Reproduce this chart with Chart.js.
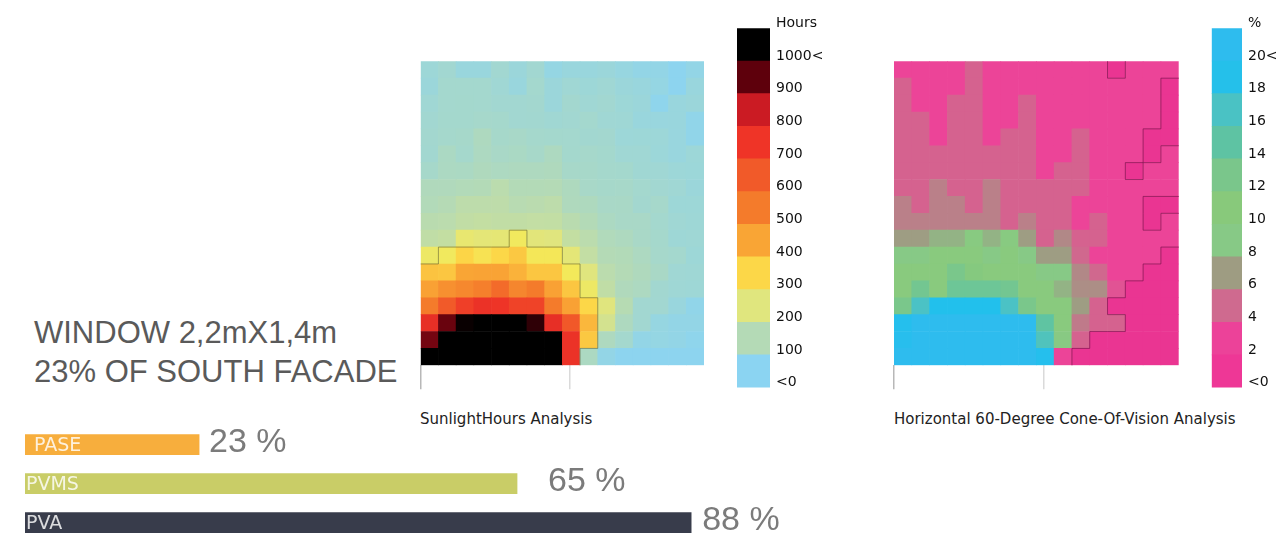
<!DOCTYPE html>
<html>
<head>
<meta charset="utf-8">
<script src="https://cdn.jsdelivr.net/npm/chart.js@4.4.1/dist/chart.umd.min.js"></script>
<style>
  html, body { margin: 0; padding: 0; background: #fff; width: 1287px; height: 535px; overflow: hidden; }
  canvas { position: absolute; }
  .txt { position: absolute; white-space: nowrap; }
  #title { left: 34px; top: 313px; font: 31px "Liberation Sans", Arial, sans-serif; line-height: 39px; color: #5a5a5a; }
  .cap { top: 410px; font: 15px "DejaVu Sans", sans-serif; line-height: 18px; color: #222; }
</style>
</head>
<body>
<div id="title" class="txt">WINDOW 2,2mX1,4m<br>23% OF SOUTH FACADE</div>
<div class="txt cap" style="left:420px">SunlightHours Analysis</div>
<div class="txt cap" style="left:894px">Horizontal 60-Degree Cone-Of-Vision Analysis</div>

<canvas id="sun" width="310" height="345" style="left:410px;top:50px"></canvas>
<canvas id="sunKey" width="110" height="392" style="left:730px;top:10px"></canvas>
<canvas id="cone" width="310" height="345" style="left:884px;top:50px"></canvas>
<canvas id="coneKey" width="80" height="392" style="left:1205px;top:10px"></canvas>
<canvas id="bars" width="800" height="125" style="left:0px;top:420px"></canvas>

<script>
// sunlight hours per cell, top row first (16 columns x 18 rows)
const sunlightHours = [
    [45, 55, 35, 35, 55, 40, 55, 25, 35, 35, 40, 30, 20, 20, 5, 20],
    [40, 60, 60, 60, 50, 35, 60, 40, 50, 45, 50, 40, 35, 25, 5, 35],
    [50, 60, 62, 60, 55, 55, 58, 40, 58, 50, 55, 45, 40, 10, 35, 40],
    [55, 62, 62, 65, 63, 55, 57, 52, 55, 60, 50, 48, 35, 33, 35, 15],
    [58, 64, 66, 85, 66, 70, 64, 62, 60, 57, 58, 43, 45, 43, 33, 15],
    [57, 78, 64, 82, 72, 76, 68, 84, 62, 65, 62, 50, 50, 42, 33, 43],
    [66, 80, 78, 88, 82, 85, 85, 88, 68, 68, 64, 62, 52, 50, 43, 42],
    [90, 90, 95, 98, 115, 98, 98, 100, 86, 70, 67, 68, 60, 55, 50, 40],
    [95, 102, 120, 120, 122, 108, 113, 120, 88, 86, 72, 74, 58, 65, 45, 45],
    [112, 115, 130, 135, 130, 130, 133, 132, 112, 98, 80, 72, 72, 60, 50, 47],
    [128, 135, 220, 210, 212, 245, 205, 200, 135, 115, 92, 85, 72, 63, 47, 48],
    [235, 245, 305, 270, 300, 330, 255, 255, 210, 133, 100, 96, 82, 65, 60, 45],
    [340, 335, 400, 405, 405, 375, 335, 335, 250, 200, 115, 100, 88, 74, 50, 48],
    [410, 450, 470, 490, 550, 475, 500, 410, 335, 235, 128, 90, 82, 56, 48, 47],
    [500, 600, 670, 710, 700, 660, 660, 500, 410, 300, 200, 105, 55, 55, 35, 15],
    [720, 890, 990, 1000, 1000, 1000, 950, 720, 605, 365, 170, 85, 55, 28, 20, 20],
    [880, 1000, 1000, 1000, 1000, 1000, 1000, 1000, 710, 330, 85, 60, 20, 25, 20, 10],
    [1000, 1000, 1000, 1000, 1000, 1000, 1000, 1000, 710, 80, 20, 5, 5, 5, 5, 5]
];

// cone-of-vision %, top row first
const coneOfVision = [
    [3, 3, 3, 3, 5, 3, 3, 3, 3, 3, 3, 3, 1, 3, 3, 3],
    [5, 3, 3, 3, 5, 3, 3, 3, 3, 3, 3, 3, 3, 3, 3, 1],
    [5, 3, 3, 5, 5, 3, 3, 5, 3, 3, 3, 3, 3, 3, 3, 1],
    [5, 5, 3, 5, 5, 3, 3, 5, 3, 3, 3, 3, 3, 3, 3, 1],
    [5, 5, 3, 5, 5, 3, 5, 5, 3, 3, 5, 3, 3, 3, 1, 1],
    [5, 5, 5, 5, 5, 5, 5, 5, 3, 3, 5, 3, 3, 3, 1, 3],
    [5, 5, 5, 5, 5, 5, 5, 5, 3, 5, 5, 3, 3, 1, 3, 3],
    [5, 5, 6, 5, 5, 6, 5, 5, 5, 5, 5, 3, 3, 3, 3, 3],
    [6, 5, 6, 6, 5, 6, 5, 5, 5, 5, 3, 3, 3, 3, 1, 1],
    [6, 6, 6, 6, 6, 6, 5, 6, 5, 5, 3, 5, 3, 3, 1, 3],
    [7, 7, 8, 8, 10, 8, 10, 7, 5, 6.3, 5, 5, 3, 3, 3, 3],
    [9, 9, 10.5, 10.5, 10.5, 9, 10.5, 9, 7, 7, 5.2, 3, 3, 3, 3, 1],
    [10.5, 10.5, 10.5, 13, 11.5, 10.5, 10.5, 10.5, 9, 9, 6.3, 5.2, 3, 3, 1, 1],
    [10.5, 13.5, 10.5, 14, 14, 14, 13.5, 10.5, 10.5, 8, 6.5, 6.5, 4, 1, 1, 1],
    [13, 17, 19, 19, 19, 19, 17, 13, 10.5, 10.5, 7, 5, 1, 1, 1, 1],
    [19.5, 21, 21, 21, 21, 21, 21, 21, 15, 10.5, 5.8, 5, 5, 1, 1, 1],
    [20, 21, 21, 21, 21, 21, 21, 21, 16.5, 9.5, 5, 1, 1, 1, 1, 1],
    [21, 21, 21, 21, 21, 21, 21, 21, 19.5, 3, 1, 1, 1, 1, 1, 1]
];

// colour keys, bottom block first
const sunKeyColors = ['#8bd4f2', '#b4dab6', '#e0e67e', '#fcd748', '#f9a535', '#f47b2b', '#f15a29', '#ef3427', '#cb1b23', '#5e000c', '#000000'];
const sunKeyTicks = ['<0', '100', '200', '300', '400', '500', '600', '700', '800', '900', '1000<', 'Hours'];
const coneKeyColors = ['#ee3796', '#ec4299', '#cf6a8f', '#9e9c82', '#87c986', '#88c97b', '#7ac68b', '#5ec3a3', '#4ac2c4', '#25c0ea', '#2ebcee'];
const coneKeyTicks = ['<0', '2', '4', '6', '8', '10', '12', '14', '16', '18', '20<', '%'];

// bottom-left bars
const barCategories = ['PASE', 'PVMS', 'PVA'];
const barValues = [23, 65, 88];
const barColors = ['#f7ae3d', '#c9cd67', '#383c4b'];

// colour ramps (value -> colour) for the cells
const sunStops = [[0, '#8bd4f2'], [100, '#b4dab6'], [200, '#e0e57e'], [250, '#f3e95a'], [300, '#fcd748'], [400, '#f9a535'],
    [500, '#f47b2b'], [600, '#f15a29'], [700, '#ee3427'], [800, '#cb1b23'], [900, '#5e000c'], [1000, '#000000']];
const coneStops = [[1, '#ea3592'], [3, '#ec4498'], [5, '#d5628f'], [7, '#9e9d83'], [9, '#87c986'], [11, '#89ca7b'],
    [13, '#7ac78b'], [15, '#5fc4a2'], [17, '#4bc2c5'], [19, '#22c0ec'], [21, '#2ebcee']];

function hexRgb(h) {
    var n = parseInt(h.slice(1), 16);
    return [(n >> 16) & 255, (n >> 8) & 255, n & 255];
}

function ramp(stops) {
    return function (v) {
        if (v <= stops[0][0]) return stops[0][1];
        for (var i = 1; i < stops.length; i++) {
            if (v <= stops[i][0]) {
                var t = (v - stops[i - 1][0]) / (stops[i][0] - stops[i - 1][0]);
                var a = hexRgb(stops[i - 1][1]), b = hexRgb(stops[i][1]);
                var c = a.map((x, k) => Math.round(x + (b[k] - x) * t));
                return 'rgb(' + c.join(',') + ')';
            }
        }
        return stops[stops.length - 1][1];
    };
}

// thin outline round the cells that pass a test (drawn on bar edges)
const contour = {
    id: 'contour',
    afterDatasetsDraw(chart, args, opts) {
        const grid = opts.grid, n = grid.length, ctx = chart.ctx;
        const inside = (r, c) => r >= 0 && r < n && c >= 0 && c < grid[0].length && opts.test(grid[r][c]);
        ctx.save();
        ctx.strokeStyle = opts.color;
        ctx.lineWidth = 1;
        ctx.beginPath();
        for (let r = 0; r < n; r++) {
            const meta = chart.getDatasetMeta(n - 1 - r);
            meta.data.forEach((el, c) => {
                if (!inside(r, c)) return;
                const x0 = el.x - el.width / 2, x1 = el.x + el.width / 2, y0 = el.y, y1 = el.base;
                const edge = (rr, cc) => rr >= 0 && rr < n && cc >= 0 && cc < grid[0].length && !inside(rr, cc);
                if (edge(r - 1, c)) { ctx.moveTo(x0, y0); ctx.lineTo(x1, y0); }
                if (edge(r + 1, c)) { ctx.moveTo(x0, y1); ctx.lineTo(x1, y1); }
                if (edge(r, c - 1)) { ctx.moveTo(x0, y0); ctx.lineTo(x0, y1); }
                if (edge(r, c + 1)) { ctx.moveTo(x1, y0); ctx.lineTo(x1, y1); }
            });
        }
        ctx.stroke();
        ctx.restore();
    }
};

// heatmap = stacked bars, one dataset per row, each cell one unit tall
function heatmap(id, grid, colorFn, pad, outline) {
    var cols = grid[0].map((_, i) => 'c' + (i + 1));
    var datasets = [];
    for (var r = grid.length - 1; r >= 0; r--) {
        datasets.push({
            data: grid[r].map(() => 1),
            backgroundColor: grid[r].map(colorFn),
            borderWidth: 0,
            barPercentage: 1,
            categoryPercentage: 1
        });
    }
    new Chart(document.getElementById(id), {
        type: 'bar',
        data: { labels: cols, datasets: datasets },
        options: {
            responsive: false,
            animation: false,
            layout: { padding: pad },
            plugins: {
                legend: { display: false },
                tooltip: { enabled: false },
                contour: Object.assign({ grid: grid }, outline)
            },
            scales: {
                x: { display: false, stacked: true },
                y: { display: false, stacked: true, min: 0, max: grid.length },
                // the two tick marks under the grid
                xt: {
                    type: 'linear', position: 'bottom', min: 0, max: cols.length, offset: false,
                    afterFit: s => { s.height = 25; },
                    ticks: { display: false, stepSize: 8.4, includeBounds: false },
                    border: { display: false },
                    grid: {
                        offset: false, drawOnChartArea: false, tickLength: 24, lineWidth: 1.5,
                        color: c => c.index === 0 ? '#b8b8b8' : '#dadada'
                    }
                }
            }
        },
        plugins: [contour]
    });
}

// colour key = one stacked column with labels on the right
function colorKey(id, colors, ticks, axisWidth, pad) {
    new Chart(document.getElementById(id), {
        type: 'bar',
        data: {
            labels: [''],
            datasets: colors.map(c => ({ data: [1], backgroundColor: c, borderWidth: 0, barPercentage: 1, categoryPercentage: 1 }))
        },
        options: {
            responsive: false,
            animation: false,
            layout: { padding: pad },
            plugins: { legend: { display: false }, tooltip: { enabled: false } },
            scales: {
                x: { display: false, stacked: true },
                y: {
                    stacked: true, position: 'right', min: 0, max: colors.length,
                    afterFit: s => { s.width = axisWidth; },
                    grid: { display: false, drawTicks: false },
                    border: { display: false },
                    ticks: {
                        stepSize: 1, autoSkip: false, padding: 6, labelOffset: -5,
                        color: '#111', font: { family: 'DejaVu Sans', size: 14 },
                        callback: v => ticks[v]
                    }
                }
            }
        }
    });
}

heatmap('sun', sunlightHours, ramp(sunStops), { left: 10.7, right: 16, top: 11.3, bottom: 4.7 },
    { test: v => v >= 240, color: 'rgba(90,90,50,0.55)' });
heatmap('cone', coneOfVision, ramp(coneStops), { left: 10, right: 15.3, top: 11.3, bottom: 4.7 },
    { test: v => v < 2, color: 'rgba(110,20,70,0.6)' });
colorKey('sunKey', sunKeyColors, sunKeyTicks, 70, { left: 7, right: 0, top: 18.3, bottom: 11.7 });
colorKey('coneKey', coneKeyColors, coneKeyTicks, 43, { left: 6.7, right: 0, top: 18.3, bottom: 11.7 });

// labels inside and after each bar
const barLabels = {
    id: 'barLabels',
    afterDatasetsDraw(chart, args, opts) {
        const ctx = chart.ctx;
        chart.getDatasetMeta(0).data.forEach((el, i) => {
            ctx.save();
            ctx.textBaseline = 'middle';
            ctx.textAlign = 'left';
            ctx.fillStyle = 'rgba(255,255,255,0.82)';
            ctx.font = '19px "DejaVu Sans"';
            ctx.fillText(barCategories[i], el.base + opts.inset[i], el.y + 1);
            ctx.fillStyle = '#7b7b7b';
            ctx.font = '34px "Liberation Sans"';
            ctx.fillText(barValues[i] + ' %', el.x + opts.gap[i], el.y - 2);
            ctx.restore();
        });
    }
};

new Chart(document.getElementById('bars'), {
    type: 'bar',
    data: {
        labels: barCategories,
        datasets: [{ data: barValues, backgroundColor: barColors, borderWidth: 0, barThickness: 20 }]
    },
    options: {
        indexAxis: 'y',
        responsive: false,
        animation: false,
        layout: { padding: { left: 25, right: 18, top: 5.2, bottom: 2.8 } },
        plugins: {
            legend: { display: false },
            tooltip: { enabled: false },
            barLabels: { inset: [9, 1, 1], gap: [10, 31, 11] }
        },
        scales: {
            x: { display: false, min: 0, max: 100 },
            y: { display: false }
        }
    },
    plugins: [barLabels]
});
</script>
</body>
</html>
